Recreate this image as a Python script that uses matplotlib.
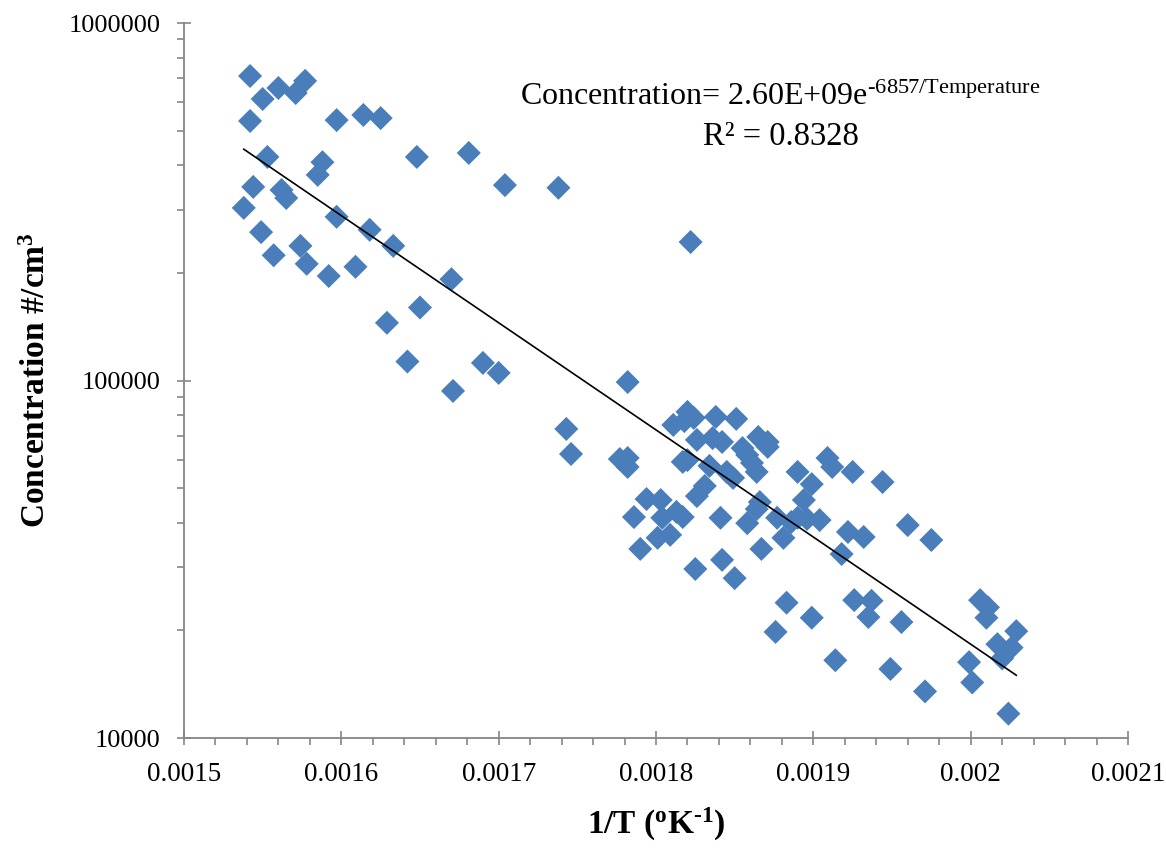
import matplotlib
matplotlib.use('Agg')
import matplotlib.pyplot as plt
from matplotlib.ticker import MultipleLocator, FuncFormatter, LogLocator, NullFormatter
import numpy as np

plt.rcParams['font.family'] = ['Liberation Serif', 'DejaVu Serif']
plt.rcParams['mathtext.fontset'] = 'custom'
plt.rcParams['mathtext.rm'] = 'Liberation Serif'
plt.rcParams['mathtext.it'] = 'Liberation Serif:italic'
plt.rcParams['mathtext.bf'] = 'Liberation Serif:bold'

# 1/T (1/K) values
inv_t = [0.001542, 0.001560, 0.001550, 0.001571, 0.001577, 0.001542, 0.001597, 0.001614,
         0.001625, 0.001553, 0.001588, 0.001585, 0.001648, 0.001681, 0.001704, 0.001738,
         0.001544, 0.001562, 0.001565, 0.001538, 0.001597, 0.001549, 0.001618, 0.001633,
         0.001574, 0.001557, 0.001578, 0.001592, 0.001609, 0.001670, 0.001650, 0.001629,
         0.001642, 0.001690, 0.001700, 0.001671, 0.001822, 0.001782, 0.001743, 0.001746,
         0.001777, 0.001782, 0.001782, 0.001786, 0.001794, 0.001803, 0.001820, 0.001824,
         0.001811, 0.001818, 0.001838, 0.001851, 0.001826, 0.001836, 0.001842, 0.001865,
         0.001871, 0.001855, 0.001871, 0.001817, 0.001820, 0.001834, 0.001845, 0.001849,
         0.001858, 0.001861, 0.001864, 0.001890, 0.001909, 0.001912, 0.001925, 0.001944,
         0.001899, 0.001831, 0.001826, 0.001813, 0.001817, 0.001804, 0.001894, 0.001866,
         0.001864, 0.001858, 0.001841, 0.001877, 0.001886, 0.001890, 0.001896, 0.001904,
         0.001881, 0.001922, 0.001932, 0.001801, 0.001809, 0.001790, 0.001867, 0.001918,
         0.001842, 0.001825, 0.001850, 0.001883, 0.001926, 0.001937, 0.001960, 0.001975,
         0.001899, 0.001935, 0.001956, 0.001876, 0.001914, 0.001949, 0.001971, 0.001999,
         0.002001, 0.002006, 0.002011, 0.002010, 0.002029, 0.002017, 0.002026, 0.002020,
         0.002024]

# concentration (#/cm3)
conc = [710800, 658000, 613000, 637000, 689000, 532000, 535000, 553000,
        542000, 422000, 408000, 376000, 422000, 433000, 352000, 346000,
        348000, 341000, 324000, 304000, 287000, 260000, 264000, 238000,
        238000, 224000, 212000, 196000, 208000, 192000, 160000, 145000,
        113000, 112000, 105000, 93500, 244000, 99000, 73200, 62300,
        60300, 60700, 57300, 41500, 46600, 46300, 81700, 78600,
        75100, 77000, 79100, 78100, 68200, 69000, 67300, 69500,
        67300, 64700, 65200, 59200, 59900, 57700, 55500, 53400,
        61900, 58800, 55500, 55500, 60700, 57300, 55500, 52000,
        51300, 50700, 47500, 42900, 41500, 41300, 46300, 45700,
        43700, 39900, 41300, 41300, 40200, 41300, 41000, 40700,
        36300, 37700, 36500, 36300, 37000, 33800, 33800, 32700,
        31500, 29700, 28000, 23900, 24300, 24200, 39400, 35800,
        21700, 21800, 21100, 19800, 16500, 15600, 13500, 16300,
        14300, 24300, 23200, 21700, 19900, 18300, 17900, 16700,
        11700]

eq_text = 'Concentration= 2.60E+09e$^{\\mathrm{\u20106857/Temperature}}$'
r2_text = 'R² = 0.8328'

x = np.array(inv_t)
y = np.array(conc)

# exponential trendline (fit of ln y against 1/T)
b, a = np.polyfit(x, np.log(y), 1)
xf = np.array([x.min(), x.max()])
yf = np.exp(a + b * xf)

fig = plt.figure(figsize=(11.66, 8.52), dpi=100)
ax = fig.add_axes([0.1578, 0.1338, 0.8096, 0.8392])

ax.scatter(x, y, marker='D', s=150, color='#4A7EBB', edgecolors='none', zorder=3)
ax.plot(xf, yf, color='black', linewidth=1.2, zorder=4)

ax.set_yscale('log')
ax.set_xlim(0.0015, 0.0021)
ax.set_ylim(10000, 1000000)

ax.xaxis.set_major_locator(MultipleLocator(0.0001))
ax.xaxis.set_minor_locator(MultipleLocator(0.00002))
ax.xaxis.set_major_formatter(FuncFormatter(lambda v, p: '%g' % round(v, 6)))
ax.yaxis.set_major_locator(LogLocator(base=10))
ax.yaxis.set_minor_locator(LogLocator(base=10, subs=np.arange(2, 10)))
ax.yaxis.set_major_formatter(FuncFormatter(lambda v, p: '%d' % round(v)))
ax.yaxis.set_minor_formatter(NullFormatter())

for s in ['top', 'right']:
    ax.spines[s].set_visible(False)
for s in ['left', 'bottom']:
    ax.spines[s].set_color('#868686')
    ax.spines[s].set_linewidth(1.3)

ax.tick_params(axis='x', which='major', direction='inout', length=10, width=1.2,
               color='#868686', labelsize=19.5, pad=12)
ax.tick_params(axis='x', which='minor', direction='out', length=5, width=1.2,
               color='#868686')
ax.tick_params(axis='y', which='major', direction='inout', length=10, width=1.2,
               color='#868686', labelsize=19, pad=12)
ax.tick_params(axis='y', which='minor', direction='out', length=5, width=1.2,
               color='#868686')

ax.set_xlabel('1/T ($^{\\mathbf{o}}$K$^{\\mathbf{\u20101}}$)', fontsize=24,
              fontweight='bold', labelpad=14)
ax.set_ylabel('Concentration #/cm$^{\\mathbf{3}}$', fontsize=24,
              fontweight='bold', labelpad=12)

ax.text(0.632, 0.8965, eq_text, transform=ax.transAxes, fontsize=23,
        ha='center', va='center')
ax.text(0.632, 0.841, r2_text, transform=ax.transAxes, fontsize=23.5,
        ha='center', va='center')

plt.savefig('out.png', dpi=100)
